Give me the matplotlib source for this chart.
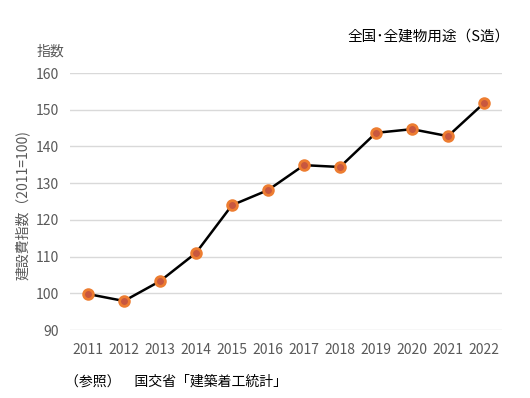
import matplotlib
matplotlib.use("Agg")
import matplotlib.pyplot as plt

plt.rcParams['font.family'] = ['Noto Sans CJK JP', 'DejaVu Sans']

years = ['2011', '2012', '2013', '2014', '2015', '2016',
         '2017', '2018', '2019', '2020', '2021', '2022']
index_values = [99.8, 97.9, 103.3, 111.0, 124.0, 128.1,
                134.9, 134.4, 143.7, 144.7, 142.8, 151.8]
y_ticks = [90, 100, 110, 120, 130, 140, 150, 160]

fig = plt.figure(figsize=(5.3, 3.98), dpi=100)
ax = fig.add_axes([70 / 530, 68 / 398, 432 / 530, 257 / 398])

x = list(range(len(years)))
ax.plot(x, index_values, color='black', linewidth=1.8, zorder=3,
        marker='o', markersize=7, markerfacecolor='#C8573F',
        markeredgecolor='#ED7D31', markeredgewidth=2)

ax.set_xlim(-0.5, len(years) - 0.5)
ax.set_ylim(90, 160)
ax.set_yticks(y_ticks)
ax.set_xticks(x)
ax.set_xticklabels(years)
ax.grid(axis='y', color='#D9D9D9', linewidth=1)
ax.set_axisbelow(True)
for s in ax.spines.values():
    s.set_visible(False)
ax.tick_params(length=0, labelsize=10, colors='#595959', pad=8)
ax.tick_params(axis='x', pad=9)

fig.text(510 / 530, 1 - 37 / 398, '全国･全建物用途（S造）', ha='right', va='center',
         fontsize=10.5, color='black')
fig.text(37 / 530, 1 - 52 / 398, '指数', ha='left', va='center',
         fontsize=10, color='#595959')
fig.text(22 / 530, 1 - 205 / 398, '建設費指数（2011=100)', ha='center', va='center',
         rotation=90, fontsize=10, color='#595959')
fig.text(65 / 530, 1 - 382 / 398, '（参照）　国交省「建築着工統計」', ha='left', va='center',
         fontsize=10, color='black')

fig.savefig('out.png', dpi=100)
